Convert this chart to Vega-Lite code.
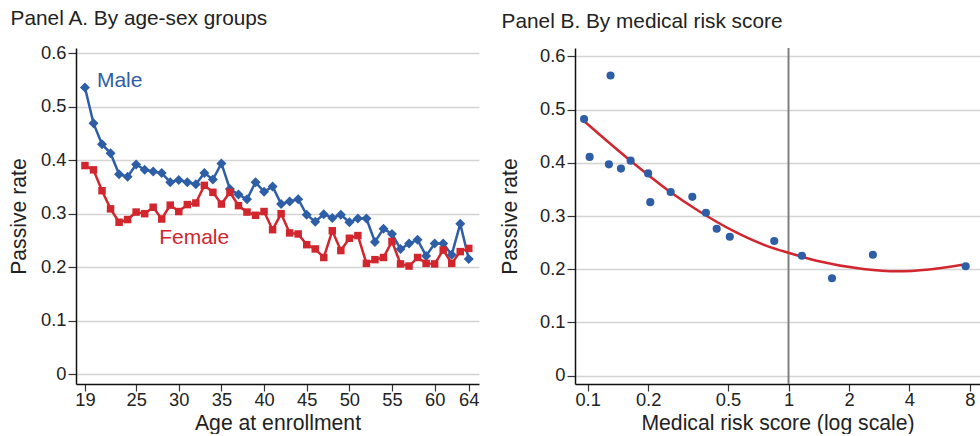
{
  "$schema": "https://vega.github.io/schema/vega-lite/v6.json",
  "background": "white",
  "padding": {"left": 8, "top": 7, "right": 0, "bottom": 0},
  "config": {
    "font": "Liberation Sans",
    "view": {"stroke": null},
    "axis": {
      "labelFontSize": 18.3, "titleFontSize": 21.2, "titleFontWeight": "normal",
      "labelColor": "#222222", "titleColor": "#222222",
      "domainColor": "#111111", "domainWidth": 1.5,
      "tickColor": "#333333", "tickWidth": 1.2,
      "gridColor": "#d4d4d4", "gridWidth": 1.5
    },
    "title": {"fontSize": 20.8, "fontWeight": "normal", "anchor": "start", "frame": "bounds", "color": "#222222", "offset": 14, "dx": 2},
    "concat": {"spacing": 20}
  },
  "datasets": {
    "agesex": [
      {"age": 19, "sex": "Male", "rate": 0.536}, {"age": 20, "sex": "Male", "rate": 0.469},
      {"age": 21, "sex": "Male", "rate": 0.430}, {"age": 22, "sex": "Male", "rate": 0.413},
      {"age": 23, "sex": "Male", "rate": 0.374}, {"age": 24, "sex": "Male", "rate": 0.369},
      {"age": 25, "sex": "Male", "rate": 0.392}, {"age": 26, "sex": "Male", "rate": 0.382},
      {"age": 27, "sex": "Male", "rate": 0.379}, {"age": 28, "sex": "Male", "rate": 0.376},
      {"age": 29, "sex": "Male", "rate": 0.359}, {"age": 30, "sex": "Male", "rate": 0.363},
      {"age": 31, "sex": "Male", "rate": 0.359}, {"age": 32, "sex": "Male", "rate": 0.355},
      {"age": 33, "sex": "Male", "rate": 0.376}, {"age": 34, "sex": "Male", "rate": 0.364},
      {"age": 35, "sex": "Male", "rate": 0.394}, {"age": 36, "sex": "Male", "rate": 0.346},
      {"age": 37, "sex": "Male", "rate": 0.336}, {"age": 38, "sex": "Male", "rate": 0.327},
      {"age": 39, "sex": "Male", "rate": 0.359}, {"age": 40, "sex": "Male", "rate": 0.341},
      {"age": 41, "sex": "Male", "rate": 0.351}, {"age": 42, "sex": "Male", "rate": 0.318},
      {"age": 43, "sex": "Male", "rate": 0.323}, {"age": 44, "sex": "Male", "rate": 0.327},
      {"age": 45, "sex": "Male", "rate": 0.298}, {"age": 46, "sex": "Male", "rate": 0.285},
      {"age": 47, "sex": "Male", "rate": 0.299}, {"age": 48, "sex": "Male", "rate": 0.292},
      {"age": 49, "sex": "Male", "rate": 0.298}, {"age": 50, "sex": "Male", "rate": 0.284},
      {"age": 51, "sex": "Male", "rate": 0.291}, {"age": 52, "sex": "Male", "rate": 0.291},
      {"age": 53, "sex": "Male", "rate": 0.247}, {"age": 54, "sex": "Male", "rate": 0.272},
      {"age": 55, "sex": "Male", "rate": 0.262}, {"age": 56, "sex": "Male", "rate": 0.234},
      {"age": 57, "sex": "Male", "rate": 0.244}, {"age": 58, "sex": "Male", "rate": 0.251},
      {"age": 59, "sex": "Male", "rate": 0.221}, {"age": 60, "sex": "Male", "rate": 0.244},
      {"age": 61, "sex": "Male", "rate": 0.244}, {"age": 62, "sex": "Male", "rate": 0.223},
      {"age": 63, "sex": "Male", "rate": 0.281}, {"age": 64, "sex": "Male", "rate": 0.215},
      {"age": 19, "sex": "Female", "rate": 0.390}, {"age": 20, "sex": "Female", "rate": 0.382},
      {"age": 21, "sex": "Female", "rate": 0.343}, {"age": 22, "sex": "Female", "rate": 0.309},
      {"age": 23, "sex": "Female", "rate": 0.284}, {"age": 24, "sex": "Female", "rate": 0.289},
      {"age": 25, "sex": "Female", "rate": 0.303}, {"age": 26, "sex": "Female", "rate": 0.300},
      {"age": 27, "sex": "Female", "rate": 0.312}, {"age": 28, "sex": "Female", "rate": 0.290},
      {"age": 29, "sex": "Female", "rate": 0.316}, {"age": 30, "sex": "Female", "rate": 0.304},
      {"age": 31, "sex": "Female", "rate": 0.317}, {"age": 32, "sex": "Female", "rate": 0.320},
      {"age": 33, "sex": "Female", "rate": 0.353}, {"age": 34, "sex": "Female", "rate": 0.340},
      {"age": 35, "sex": "Female", "rate": 0.318}, {"age": 36, "sex": "Female", "rate": 0.340},
      {"age": 37, "sex": "Female", "rate": 0.315}, {"age": 38, "sex": "Female", "rate": 0.303},
      {"age": 39, "sex": "Female", "rate": 0.297}, {"age": 40, "sex": "Female", "rate": 0.304},
      {"age": 41, "sex": "Female", "rate": 0.270}, {"age": 42, "sex": "Female", "rate": 0.300},
      {"age": 43, "sex": "Female", "rate": 0.264}, {"age": 44, "sex": "Female", "rate": 0.262},
      {"age": 45, "sex": "Female", "rate": 0.242}, {"age": 46, "sex": "Female", "rate": 0.234},
      {"age": 47, "sex": "Female", "rate": 0.218}, {"age": 48, "sex": "Female", "rate": 0.268},
      {"age": 49, "sex": "Female", "rate": 0.231}, {"age": 50, "sex": "Female", "rate": 0.254},
      {"age": 51, "sex": "Female", "rate": 0.259}, {"age": 52, "sex": "Female", "rate": 0.207},
      {"age": 53, "sex": "Female", "rate": 0.214}, {"age": 54, "sex": "Female", "rate": 0.218},
      {"age": 55, "sex": "Female", "rate": 0.248}, {"age": 56, "sex": "Female", "rate": 0.206},
      {"age": 57, "sex": "Female", "rate": 0.202}, {"age": 58, "sex": "Female", "rate": 0.218},
      {"age": 59, "sex": "Female", "rate": 0.207}, {"age": 60, "sex": "Female", "rate": 0.206},
      {"age": 61, "sex": "Female", "rate": 0.232}, {"age": 62, "sex": "Female", "rate": 0.207},
      {"age": 63, "sex": "Female", "rate": 0.229}, {"age": 64, "sex": "Female", "rate": 0.235}
    ],
    "sexlabels": [
      {"age": 20.4, "rate": 0.548, "sex": "Male"},
      {"age": 27.7, "rate": 0.2545, "sex": "Female"}
    ],
    "risk": [
      {"score": 0.096, "rate": 0.482}, {"score": 0.1023, "rate": 0.411},
      {"score": 0.130, "rate": 0.564}, {"score": 0.1276, "rate": 0.397},
      {"score": 0.1465, "rate": 0.389}, {"score": 0.1637, "rate": 0.404},
      {"score": 0.200, "rate": 0.380}, {"score": 0.205, "rate": 0.326},
      {"score": 0.259, "rate": 0.345}, {"score": 0.332, "rate": 0.336},
      {"score": 0.388, "rate": 0.306}, {"score": 0.439, "rate": 0.276},
      {"score": 0.510, "rate": 0.261}, {"score": 0.849, "rate": 0.253},
      {"score": 1.166, "rate": 0.2254}, {"score": 1.646, "rate": 0.183},
      {"score": 2.63, "rate": 0.2273}, {"score": 7.62, "rate": 0.2055}
    ],
    "fit": [
      {"score": 0.0962, "rate": 0.478}, {"score": 0.1644, "rate": 0.403},
      {"score": 0.2518, "rate": 0.348}, {"score": 0.362, "rate": 0.308},
      {"score": 0.531, "rate": 0.272}, {"score": 0.778, "rate": 0.244},
      {"score": 1.008, "rate": 0.2305}, {"score": 1.38, "rate": 0.216},
      {"score": 2.355, "rate": 0.2005}, {"score": 3.45, "rate": 0.196},
      {"score": 5.01, "rate": 0.1995}, {"score": 7.33, "rate": 0.2085}
    ],
    "refline": [{"score": 1}]
  },
  "hconcat": [
    {
      "width": 403,
      "height": 336,
      "title": {"text": "Panel A. By age-sex groups"},
      "encoding": {
        "x": {"field": "age", "type": "quantitative",
              "scale": {"domain": [17.95, 65.2], "nice": false, "zero": false},
              "axis": {"title": "Age at enrollment", "values": [19, 25, 30, 35, 40, 45, 50, 55, 60, 64], "grid": false, "tickSize": 7, "labelPadding": 0.5, "titlePadding": 4}},
        "y": {"field": "rate", "type": "quantitative",
              "scale": {"domain": [-0.0187, 0.61], "nice": false, "zero": false},
              "axis": {"title": "Passive rate", "values": [0, 0.1, 0.2, 0.3, 0.4, 0.5, 0.6], "grid": true, "tickSize": 8, "labelPadding": 2, "titlePadding": 11,
                       "labelExpr": "datum.value == 0 ? '0' : format(datum.value, '.1f')"}},
        "color": {"field": "sex", "type": "nominal", "scale": {"domain": ["Male", "Female"], "range": ["#2e5ea6", "#d1262e"]}, "legend": null}
      },
      "layer": [
        {"data": {"name": "agesex"}, "mark": {"type": "line", "strokeWidth": 2.5}},
        {"data": {"name": "agesex"}, "mark": {"type": "point", "filled": true, "opacity": 1},
         "encoding": {
           "shape": {"field": "sex", "type": "nominal", "scale": {"domain": ["Male", "Female"], "range": ["diamond", "square"]}, "legend": null},
           "size": {"field": "sex", "type": "nominal", "scale": {"domain": ["Male", "Female"], "range": [100, 56]}, "legend": null}
         }},
        {"data": {"name": "sexlabels"}, "mark": {"type": "text", "align": "left", "baseline": "middle", "fontSize": 21},
         "encoding": {"text": {"field": "sex"}}}
      ]
    },
    {
      "width": 405,
      "height": 336,
      "title": {"text": "Panel B. By medical risk score"},
      "layer": [
        {"data": {"name": "refline"}, "mark": {"type": "rule", "color": "#808080", "strokeWidth": 2},
         "encoding": {"x": {"field": "score", "type": "quantitative", "scale": {"type": "log", "domain": [0.0865, 8.98], "nice": false},
              "axis": {"title": "Medical risk score (log scale)", "values": [0.1, 0.2, 0.5, 1, 2, 4, 8], "format": "~g", "grid": false, "tickSize": 7, "labelPadding": 0.5, "titlePadding": 4}}}},
        {"data": {"name": "fit"}, "mark": {"type": "line", "color": "#d1262e", "strokeWidth": 2.5, "interpolate": "monotone"},
         "encoding": {
           "x": {"field": "score", "type": "quantitative"},
           "y": {"field": "rate", "type": "quantitative",
                 "scale": {"domain": [-0.0156, 0.6156], "nice": false, "zero": false},
                 "axis": {"title": "Passive rate", "values": [0, 0.1, 0.2, 0.3, 0.4, 0.5, 0.6], "grid": true, "tickSize": 8, "labelPadding": 2, "titlePadding": 19,
                          "labelExpr": "datum.value == 0 ? '0' : format(datum.value, '.1f')"}}
         }},
        {"data": {"name": "risk"}, "mark": {"type": "circle", "color": "#2e5ea6", "opacity": 1, "size": 66},
         "encoding": {
           "x": {"field": "score", "type": "quantitative"},
           "y": {"field": "rate", "type": "quantitative"}
         }}
      ]
    }
  ]
}
